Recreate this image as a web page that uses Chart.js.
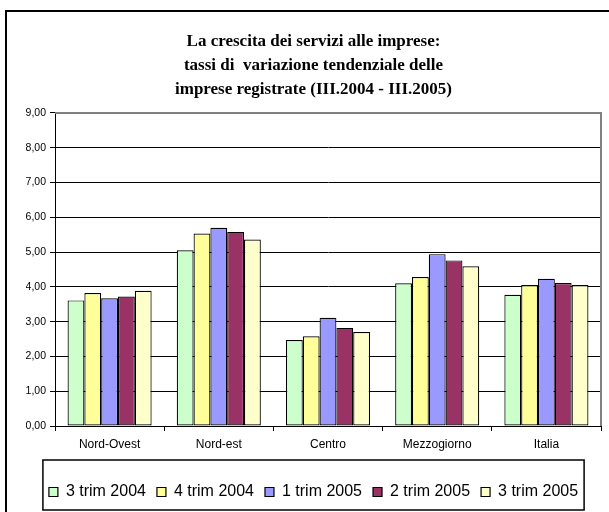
<!DOCTYPE html>
<html>
<head>
<meta charset="utf-8">
<script src="https://cdn.jsdelivr.net/npm/chart.js@4/dist/chart.umd.min.js"></script>
<style>
  html, body { margin: 0; padding: 0; background: #fff; overflow: hidden; }
  #frame { position: absolute; left: 5px; top: 10px; width: 620px; height: 520px; border: 2px solid #000; }
  #wrap { position: absolute; left: 0; top: 0; width: 609px; height: 512px; }
</style>
</head>
<body>
<div id="frame"></div>
<div id="wrap"><canvas id="chart" width="609" height="512"></canvas></div>
<script>
// categories and series
const regions = ["Nord-Ovest", "Nord-est", "Centro", "Mezzogiorno", "Italia"];
const seriesNames = ["3 trim 2004", "4 trim 2004", "1 trim 2005", "2 trim 2005", "3 trim 2005"];
const trim3_2004 = [3.61, 5.05, 2.47, 4.10, 3.77];
const trim4_2004 = [3.82, 5.53, 2.58, 4.28, 4.05];
const trim1_2005 = [3.67, 5.70, 3.11, 4.94, 4.23];
const trim2_2005 = [3.72, 5.58, 2.82, 4.76, 4.11];
const trim3_2005 = [3.89, 5.36, 2.70, 4.59, 4.05];
const colors = ["#CCFFCC", "#FFFF99", "#9999FF", "#993366", "#FFFFCC"];
const titleLines = [
  "La crescita dei servizi alle imprese:",
  "tassi di  variazione tendenziale delle",
  "imprese registrate (III.2004 - III.2005)"
];

const allSeries = [trim3_2004, trim4_2004, trim1_2005, trim2_2005, trim3_2005];

// plot border (grey top/right) and the box round the legend
const framePlugin = {
  id: "framePlugin",
  afterDraw(chart) {
    const ctx = chart.ctx;
    const a = chart.chartArea;
    ctx.save();
    ctx.strokeStyle = "#808080";
    ctx.lineWidth = 2;
    ctx.beginPath();
    ctx.moveTo(a.left, a.top);
    ctx.lineTo(a.right, a.top);
    ctx.lineTo(a.right, a.bottom);
    ctx.stroke();

    const boxes = chart.legend.legendHitBoxes;
    if (boxes && boxes.length) {
      const left = Math.min(...boxes.map(b => b.left)) - 6;
      const right = Math.max(...boxes.map(b => b.left + b.width)) + 6;
      const top = boxes[0].top - 24;
      ctx.strokeStyle = "#000";
      ctx.lineWidth = 1.5;
      ctx.strokeRect(left, top, right - left, 50);
    }
    ctx.restore();
  }
};

const ctx = document.getElementById("chart").getContext("2d");
new Chart(ctx, {
  type: "bar",
  data: {
    labels: regions,
    datasets: allSeries.map((vals, i) => ({
      label: seriesNames[i],
      data: vals,
      backgroundColor: colors[i],
      borderColor: "#000",
      borderWidth: 1.2,
      borderSkipped: false,
      barPercentage: 1.0,
      categoryPercentage: 0.77
    }))
  },
  options: {
    responsive: false,
    animation: false,
    layout: { padding: { left: 26, right: 8, top: 0, bottom: 2 } },
    plugins: {
      title: {
        display: true,
        text: titleLines,
        color: "#000",
        font: { family: "'Liberation Serif', 'Times New Roman', serif", size: 17, weight: "bold", lineHeight: 1.41 },
        padding: { top: 30, bottom: 11 }
      },
      legend: {
        display: true,
        position: "bottom",
        labels: {
          color: "#000",
          font: { family: "'Liberation Sans', Arial, sans-serif", size: 16 },
          boxWidth: 9,
          boxHeight: 9,
          padding: 11
        }
      },
      tooltip: { enabled: false }
    },
    scales: {
      x: {
        grid: { drawOnChartArea: false, color: "#000", tickLength: 5, offset: true },
        border: { color: "#000", width: 1 },
        ticks: {
          color: "#000",
          font: { family: "'Liberation Sans', Arial, sans-serif", size: 12 },
          padding: 6,
          maxRotation: 0
        },
        afterFit(scale) { scale.height = 47; }
      },
      y: {
        min: 0,
        max: 9,
        grid: { color: "#000", lineWidth: 1, tickLength: 5 },
        border: { color: "#000", width: 1 },
        ticks: {
          stepSize: 1,
          color: "#000",
          padding: 4,
          font: { family: "'Liberation Sans', Arial, sans-serif", size: 10.5 },
          callback: v => v.toFixed(2).replace(".", ",")
        },
        afterFit(scale) { scale.width = 29; }
      }
    }
  },
  plugins: [framePlugin]
});
</script>
</body>
</html>
